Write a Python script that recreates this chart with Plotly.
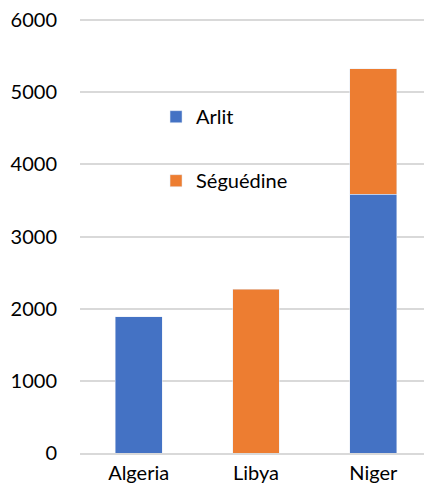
import plotly.graph_objects as go

categories = ["Algeria", "Libya", "Niger"]
arlit = [1890, None, 3590]
seguedine = [None, 2270, 1740]
y_ticks = [0, 1000, 2000, 3000, 4000, 5000, 6000]

fig = go.Figure()
fig.add_trace(go.Bar(x=categories, y=arlit, name="Arlit", marker_color="#4472C4",
                     legendgroup="a"))
fig.add_trace(go.Bar(x=categories, y=seguedine, name="Séguédine", marker_color="#ED7D31",
                     legendgroup="b"))

fig.update_layout(
    width=424, height=487,
    barmode="stack", bargap=0.6,
    margin=dict(l=72, r=0, t=10, b=42),
    plot_bgcolor="white", paper_bgcolor="white",
    font=dict(family="Lato", size=20, color="#000000"),
    showlegend=True,
    legend=dict(x=0.216, y=0.818, xanchor="left", yanchor="top",
                traceorder="grouped", tracegroupgap=35,
                font=dict(size=20), bgcolor="rgba(0,0,0,0)"),
)
fig.update_yaxes(range=[0, 6030], tickvals=y_ticks, showgrid=True,
                 gridcolor="#D9D9D9", gridwidth=1.5, zeroline=False,
                 ticklabelstandoff=22, showline=False, fixedrange=True,
                 ticklabeloverflow="allow")
fig.update_xaxes(showline=True, linecolor="#D9D9D9", linewidth=1.5,
                 ticks="", ticklabelstandoff=1)

fig.write_html("out.html")
